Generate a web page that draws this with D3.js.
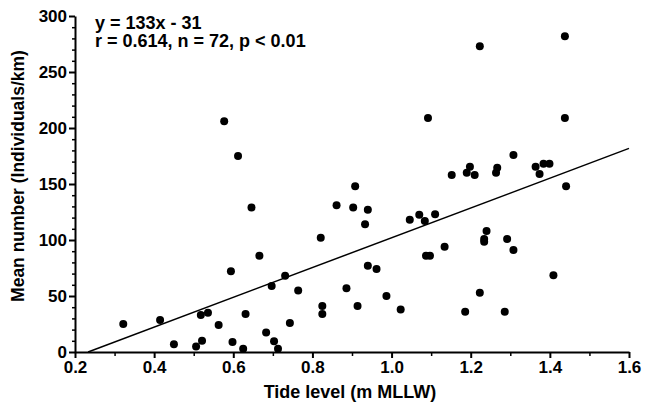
<!DOCTYPE html>
<html>
<head>
<meta charset="utf-8">
<script src="https://cdn.jsdelivr.net/npm/d3@7"></script>
<style>
  body { margin: 0; background: #fff; }
  text { font-family: "Liberation Sans", Arial, sans-serif; font-weight: bold; }
</style>
</head>
<body>
<script>
// tide level (m MLLW)
let tide = [0.322, 0.415, 0.450, 0.506, 0.518, 0.521, 0.536, 0.563, 0.577, 0.594,
    0.598, 0.612, 0.625, 0.631, 0.646, 0.666, 0.683, 0.697, 0.703, 0.713,
    0.731, 0.743, 0.764, 0.821, 0.825, 0.825, 0.861, 0.886, 0.903, 0.908,
    0.914, 0.940, 0.933, 0.940, 0.962, 0.987, 1.023, 1.046, 1.070, 1.084,
    1.110, 1.134, 1.087, 1.097, 1.092, 1.223, 1.438, 1.438, 1.441, 1.308,
    1.152, 1.190, 1.198, 1.210, 1.264, 1.267, 1.364, 1.374, 1.384, 1.399,
    1.186, 1.223, 1.240, 1.234, 1.234, 1.292, 1.308, 1.286, 1.409];
// mean number (individuals/km)
let meanNumber = [25, 28.5, 7, 5, 33, 10, 35, 24, 206, 72,
    9, 175, 3, 34, 129, 86, 17.5, 59, 9.5, 3,
    68, 26, 55, 102, 41, 34, 131, 57, 129, 148,
    41, 127, 114, 77, 74, 50, 38, 118, 122.5, 117,
    123, 94, 86, 86, 209, 273, 282, 209, 148, 176,
    158, 160, 165.5, 158, 160, 164.6, 165.5, 159, 168, 168,
    36, 53, 108, 101, 98.5, 101, 91, 36, 68.5];

let fitSlope = 133, fitIntercept = -31;
let annotation = ["y = 133x - 31", "r = 0.614, n = 72, p < 0.01"];
let xTicks = [0.2, 0.4, 0.6, 0.8, 1.0, 1.2, 1.4, 1.6];
let yTicks = [0, 50, 100, 150, 200, 250, 300];

let width = 645, height = 405;
let margin = {left: 75, right: 16, top: 16, bottom: 53};

let svg = d3.select("body").append("svg")
    .attr("width", width)
    .attr("height", height);

let x = d3.scaleLinear().domain([0.2, 1.6]).range([margin.left, width - margin.right]);
let y = d3.scaleLinear().domain([0, 300]).range([height - margin.bottom, margin.top]);

// minor ticks first
svg.append("g")
    .attr("transform", `translate(0,${y(0)})`)
    .call(d3.axisBottom(x).tickValues(d3.range(0.3, 1.6, 0.2)).tickSize(4).tickFormat(""))
    .call(g => g.select(".domain").remove())
    .selectAll("line").attr("stroke-width", 1.5);

svg.append("g")
    .attr("transform", `translate(${x(0.2)},0)`)
    .call(d3.axisLeft(y).tickValues(d3.range(10, 300, 10).filter(d => d % 50 != 0)).tickSize(3).tickFormat(""))
    .call(g => g.select(".domain").remove())
    .selectAll("line").attr("stroke-width", 1.5);

let xAxis = svg.append("g")
    .attr("transform", `translate(0,${y(0)})`)
    .call(d3.axisBottom(x).tickValues(xTicks).tickSize(6).tickSizeOuter(0).tickPadding(3).tickFormat(d3.format(".1f")));
xAxis.select(".domain").attr("stroke-width", 2);
xAxis.selectAll("line").attr("stroke-width", 2);
xAxis.selectAll("text").attr("font-size", 17).attr("fill", "#000");

let yAxis = svg.append("g")
    .attr("transform", `translate(${x(0.2)},0)`)
    .call(d3.axisLeft(y).tickValues(yTicks).tickSize(6).tickSizeOuter(0).tickPadding(2));
yAxis.select(".domain").attr("stroke-width", 2);
yAxis.selectAll("line").attr("stroke-width", 2);
yAxis.selectAll("text").attr("font-size", 17).attr("fill", "#000");

// regression line
let x0 = -fitIntercept / fitSlope;
svg.append("line")
    .attr("x1", x(x0)).attr("y1", y(0))
    .attr("x2", x(1.6)).attr("y2", y(fitSlope * 1.6 + fitIntercept))
    .attr("stroke", "#000")
    .attr("stroke-width", 1.5);

svg.selectAll("circle")
    .data(tide.map((t, i) => [t, meanNumber[i]]))
    .join("circle")
    .attr("cx", d => x(d[0]))
    .attr("cy", d => y(d[1]))
    .attr("r", 4)
    .attr("fill", "#000");

svg.selectAll(".annot")
    .data(annotation)
    .join("text")
    .attr("class", "annot")
    .attr("x", 95)
    .attr("y", (d, i) => 29 + i * 18)
    .attr("font-size", 18)
    .text(d => d);

svg.append("text")
    .attr("x", 350)
    .attr("y", 398)
    .attr("text-anchor", "middle")
    .attr("font-size", 18)
    .text("Tide level (m MLLW)");

svg.append("text")
    .attr("transform", `translate(24,176) rotate(-90)`)
    .attr("text-anchor", "middle")
    .attr("font-size", 17.5)
    .text("Mean number (Individuals/km)");
</script>
</body>
</html>
